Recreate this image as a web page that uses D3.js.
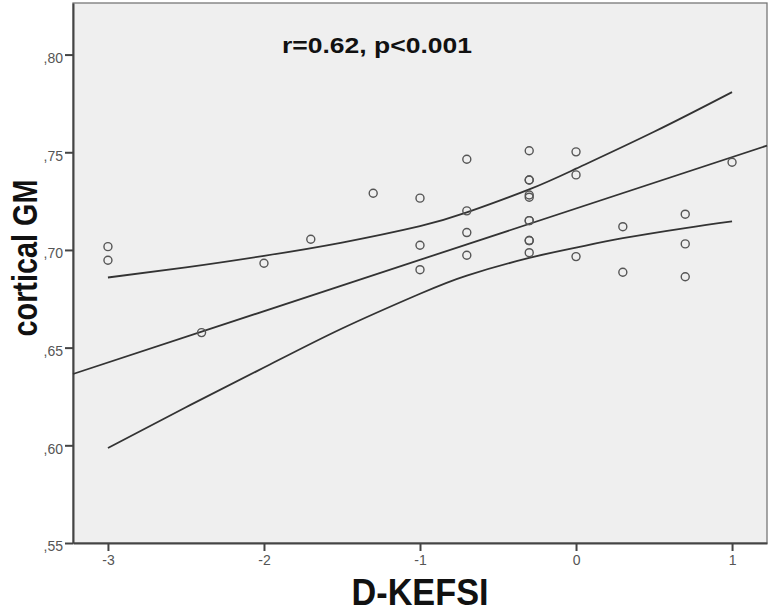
<!DOCTYPE html>
<html>
<head>
<meta charset="utf-8">
<script src="https://cdn.jsdelivr.net/npm/d3@7"></script>
<style>
  body { margin: 0; background: #fff; }
  svg { display: block; font-family: Arial, "Liberation Sans", sans-serif; }
</style>
</head>
<body>
<div id="chart"></div>
<script>
// D-KEFSI vs cortical GM
const kefsi = [-3, -3, -2.4, -2, -1.7, -1.3, -1, -1, -1, -0.7, -0.7, -0.7, -0.7,
  -0.3, -0.3, -0.3, -0.3, -0.3, -0.3, -0.3, -0.3, -0.3, -0.3,
  0, 0, 0, 0.3, 0.3, 0.7, 0.7, 0.7, 1];
const gm = [0.7017, 0.6947, 0.6577, 0.6932, 0.7055, 0.7290, 0.7265, 0.7024, 0.6899,
  0.7464, 0.7200, 0.7089, 0.6973,
  0.7508, 0.7358, 0.7358, 0.7281, 0.7270, 0.7150, 0.7150, 0.7048, 0.7048, 0.6986,
  0.7502, 0.7384, 0.6966, 0.7119, 0.6886, 0.7183, 0.7031, 0.6863, 0.7449];

// fit line end points (drawn across the whole frame)
const fitX = [-3.224, 1.224];
const fitY = [0.6365, 0.7534];

// 95% band, upper and lower curves
const upperX = [-3, -2.5, -2, -1.5, -1, -0.7, -0.3, 0, 0.5, 1];
const upperY = [0.6859, 0.6911, 0.6970, 0.7038, 0.7122, 0.7192, 0.7310, 0.7416, 0.7605, 0.7808];
const lowerX = [-3, -2.5, -2, -1.5, -1, -0.7, -0.3, 0, 0.3, 0.7, 1];
const lowerY = [0.5986, 0.6195, 0.6398, 0.6598, 0.6776, 0.6869, 0.6959, 0.7012, 0.7060, 0.7112, 0.7146];

const xTicks = [-3, -2, -1, 0, 1];
const yTicks = [0.55, 0.60, 0.65, 0.70, 0.75, 0.80];
const yTickLabels = [",55", ",60", ",65", ",70", ",75", ",80"];

const W = 773, H = 615;
const plot = { left: 73, top: 3, right: 767, bottom: 543 };

const svg = d3.select("#chart").append("svg")
    .attr("width", W)
    .attr("height", H);

const x = d3.scaleLinear().domain([-3.224, 1.224]).range([plot.left, plot.right]);
const y = d3.scaleLinear().domain([0.55, 0.8264]).range([plot.bottom, plot.top]);

// frame
svg.append("rect")
    .attr("x", plot.left).attr("y", plot.top)
    .attr("width", plot.right - plot.left).attr("height", plot.bottom - plot.top)
    .attr("fill", "#efefef")
    .attr("stroke", "#777")
    .attr("stroke-width", 1.3);

// axes
const xAxis = svg.append("g")
    .attr("transform", `translate(0,${plot.bottom})`)
    .call(d3.axisBottom(x).tickValues(xTicks).tickSize(8).tickSizeOuter(0).tickPadding(4)
        .tickFormat(d => d));
const yAxis = svg.append("g")
    .attr("transform", `translate(${plot.left},0)`)
    .call(d3.axisLeft(y).tickValues(yTicks).tickSize(8).tickSizeOuter(0).tickPadding(2)
        .tickFormat((d, i) => yTickLabels[i]));

[xAxis, yAxis].forEach(a => {
  a.select(".domain").attr("stroke", "#444").attr("stroke-width", 2);
  a.selectAll(".tick line").attr("stroke", "#444").attr("stroke-width", 2);
  a.selectAll(".tick text")
      .attr("fill", "#555")
      .style("font-size", "14px")
      .style("font-family", "Arial, 'Liberation Sans', sans-serif");
});
yAxis.selectAll(".tick text").attr("dy", "0.57em");

// lines
const line = d3.line().x(d => x(d[0])).y(d => y(d[1]));
const curve = d3.line().x(d => x(d[0])).y(d => y(d[1])).curve(d3.curveNatural);

const lines = svg.append("g")
    .attr("fill", "none")
    .attr("stroke", "#333")
    .attr("stroke-width", 1.8);

lines.append("path").attr("d", line(fitX.map((v, i) => [v, fitY[i]])));
lines.append("path").attr("d", curve(upperX.map((v, i) => [v, upperY[i]])));
lines.append("path").attr("d", curve(lowerX.map((v, i) => [v, lowerY[i]])));

// points
svg.append("g")
    .selectAll("circle")
    .data(kefsi.map((v, i) => [v, gm[i]]))
    .join("circle")
    .attr("cx", d => x(d[0]))
    .attr("cy", d => y(d[1]))
    .attr("r", 4)
    .attr("fill", "none")
    .attr("stroke", "#555")
    .attr("stroke-width", 1.4);

// annotation
svg.append("text")
    .attr("x", 377).attr("y", 53)
    .attr("text-anchor", "middle")
    .attr("textLength", 190)
    .attr("lengthAdjust", "spacingAndGlyphs")
    .style("font-size", "22px")
    .style("font-weight", "bold")
    .attr("fill", "#111")
    .text("r=0.62, p<0.001");

// axis titles
svg.append("text")
    .attr("x", 420).attr("y", 605)
    .attr("text-anchor", "middle")
    .attr("textLength", 137)
    .attr("lengthAdjust", "spacingAndGlyphs")
    .style("font-size", "36px")
    .style("font-weight", "bold")
    .attr("fill", "#111")
    .text("D-KEFSI");

svg.append("text")
    .attr("transform", "translate(37,258) rotate(-90)")
    .attr("text-anchor", "middle")
    .attr("textLength", 157)
    .attr("lengthAdjust", "spacingAndGlyphs")
    .style("font-size", "35px")
    .style("font-weight", "bold")
    .attr("fill", "#111")
    .text("cortical GM");
</script>
</body>
</html>
